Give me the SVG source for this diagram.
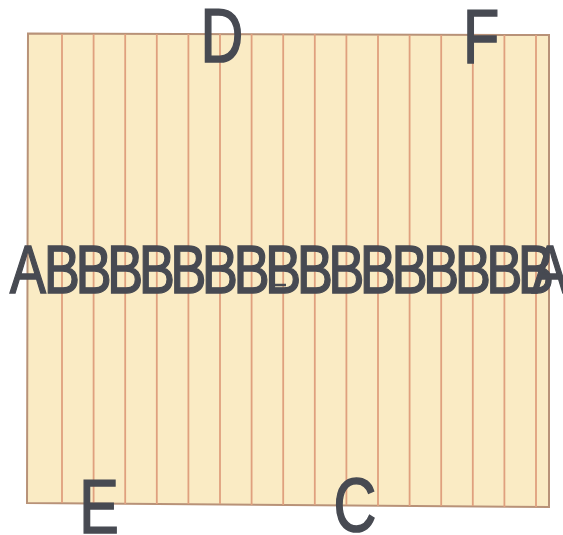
<svg xmlns="http://www.w3.org/2000/svg" width="563" height="535" viewBox="0 0 563 535">
<style>
.panel{fill:#FAEBC4;stroke:#B89278;stroke-width:2}
.rule{stroke:#DFA07E;stroke-width:1.8}
.lbl{font-family:"Liberation Sans",Arial,sans-serif;fill:#474A52;stroke:#474A52;text-anchor:middle}
.row{font-size:68px;stroke-width:1.4}
.big{font-size:76px;stroke-width:1.6}
</style>
<g id="panel">
<polygon class="panel" points="28,33.5 549,35 549,507 27,503"/>
</g>
<g id="rules">
<line class="rule" x1="62" y1="34" x2="62" y2="503"/>
<line class="rule" x1="93.6" y1="34" x2="93.6" y2="503"/>
<line class="rule" x1="125.2" y1="34" x2="125.2" y2="504"/>
<line class="rule" x1="156.8" y1="34" x2="156.8" y2="504"/>
<line class="rule" x1="188.4" y1="34" x2="188.4" y2="504"/>
<line class="rule" x1="220" y1="34" x2="220" y2="504"/>
<line class="rule" x1="251.6" y1="34" x2="251.6" y2="505"/>
<line class="rule" x1="283.2" y1="34" x2="283.2" y2="505"/>
<line class="rule" x1="314.8" y1="34" x2="314.8" y2="505"/>
<line class="rule" x1="346.4" y1="35" x2="346.4" y2="505"/>
<line class="rule" x1="378" y1="35" x2="378" y2="506"/>
<line class="rule" x1="409.6" y1="35" x2="409.6" y2="506"/>
<line class="rule" x1="441.2" y1="35" x2="441.2" y2="506"/>
<line class="rule" x1="472.8" y1="35" x2="472.8" y2="506"/>
<line class="rule" x1="504.4" y1="35" x2="504.4" y2="507"/>
<line class="rule" x1="536" y1="35" x2="536" y2="507"/>
</g>
<g id="row-labels" class="lbl row">
<g id="A1" transform="translate(28,293) scale(0.8,1)"><text x="0" y="0">A</text></g>
<g id="B1" transform="translate(62,293) scale(0.8,1)"><text x="0" y="0">B</text></g>
<g id="B2" transform="translate(93.6,293) scale(0.8,1)"><text x="0" y="0">B</text></g>
<g id="B3" transform="translate(125.2,293) scale(0.8,1)"><text x="0" y="0">B</text></g>
<g id="B4" transform="translate(156.8,293) scale(0.8,1)"><text x="0" y="0">B</text></g>
<g id="B5" transform="translate(188.4,293) scale(0.8,1)"><text x="0" y="0">B</text></g>
<g id="B6" transform="translate(220,293) scale(0.8,1)"><text x="0" y="0">B</text></g>
<g id="B7" transform="translate(251.6,293) scale(0.8,1)"><text x="0" y="0">B</text></g>
<g id="B8" transform="translate(283.2,293) scale(0.8,1)"><text x="0" y="0">B</text></g>
<g id="B9" transform="translate(314.8,293) scale(0.8,1)"><text x="0" y="0">B</text></g>
<g id="B10" transform="translate(346.4,293) scale(0.8,1)"><text x="0" y="0">B</text></g>
<g id="B11" transform="translate(378,293) scale(0.8,1)"><text x="0" y="0">B</text></g>
<g id="B12" transform="translate(409.6,293) scale(0.8,1)"><text x="0" y="0">B</text></g>
<g id="B13" transform="translate(441.2,293) scale(0.8,1)"><text x="0" y="0">B</text></g>
<g id="B14" transform="translate(472.8,293) scale(0.8,1)"><text x="0" y="0">B</text></g>
<g id="B15" transform="translate(504.4,293) scale(0.8,1)"><text x="0" y="0">B</text></g>
<g id="B16" transform="translate(536,293) scale(0.8,1)"><text x="0" y="0">B</text></g>
<g id="A2" transform="translate(550,293) scale(0.8,1)"><text x="0" y="0">A</text></g>
</g>
<g id="tick">
<line x1="275" y1="285" x2="286" y2="285" stroke="#474A52" stroke-width="2.5"/>
</g>
<g id="D" class="lbl big" transform="translate(222,62) scale(0.78,1)"><text x="0" y="0">D</text></g>
<g id="F" class="lbl big" transform="translate(481,63) scale(0.78,1)"><text x="0" y="0">F</text></g>
<g id="E" class="lbl big" transform="translate(99,533) scale(0.78,1)"><text x="0" y="0">E</text></g>
<g id="C" class="lbl big" transform="translate(355,531) scale(0.78,1)"><text x="0" y="0">C</text></g>
</svg>
